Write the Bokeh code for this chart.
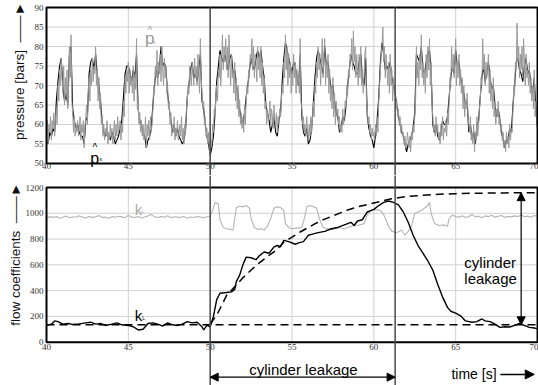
import numpy as np
from bokeh.plotting import figure
from bokeh.layouts import column
from bokeh.models import Arrow, NormalHead, Label, FixedTicker, Range1d, Span
from bokeh.embed import file_html
from bokeh.resources import INLINE

# ---------------- data ----------------
X_TICKS = [40, 45, 50, 55, 60, 65, 70]
P_TICKS = [50, 55, 60, 65, 70, 75, 80, 85, 90]
K_TICKS = [0, 200, 400, 600, 800, 1000, 1200]

# estimated pressure p_hat (grey), sampled every 0.05 s from 40 s to 70 s
P_GRAY = [
    57, 61, 55, 60, 58, 62, 56, 61, 59, 63, 57, 62, 64, 60, 70, 66, 74, 70, 77, 72,
    68, 75, 65, 72, 67, 74, 64, 70, 80, 72, 83, 66, 63, 58, 62, 57, 60, 58, 61, 57,
    59, 62, 56, 60, 58, 61, 54, 59, 62, 65, 60, 68, 72, 66, 74, 70, 77, 71, 75, 73,
    80, 70, 74, 66, 72, 64, 68, 60, 62, 57, 60, 56, 59, 57, 61, 55, 58, 56, 60, 57,
    59, 55, 58, 61, 56, 60, 57, 62, 58, 59, 61, 56, 60, 58, 66, 62, 72, 68, 74, 71,
    76, 68, 74, 70, 72, 68, 75, 66, 73, 69, 82, 64, 66, 60, 63, 58, 61, 57, 60, 56,
    58, 62, 54, 60, 57, 61, 56, 62, 58, 60, 64, 70, 68, 75, 72, 79, 70, 76, 73, 78,
    71, 80, 74, 70, 77, 72, 75, 68, 70, 64, 66, 60, 63, 57, 60, 58, 62, 56, 59, 57,
    61, 56, 58, 60, 57, 62, 56, 59, 55, 60, 58, 64, 66, 70, 68, 75, 72, 70, 76, 73,
    70, 77, 72, 75, 70, 78, 73, 68, 82, 72, 68, 64, 66, 60, 62, 57, 59, 55, 58, 54,
    52, 56, 55, 60, 58, 64, 62, 68, 70, 66, 74, 72, 78, 70, 76, 83, 74, 80, 76, 82,
    74, 80, 72, 83, 76, 70, 78, 72, 74, 68, 76, 66, 72, 64, 70, 62, 66, 60, 63, 59,
    62, 58, 64, 60, 66, 70, 68, 74, 72, 78, 76, 82, 74, 80, 72, 78, 76, 71, 80, 74,
    78, 72, 80, 70, 76, 68, 72, 64, 66, 60, 64, 61, 62, 66, 60, 64, 62, 59, 65, 61,
    60, 63, 58, 62, 60, 64, 62, 66, 70, 68, 76, 72, 83, 74, 80, 70, 78, 72, 76, 68,
    74, 70, 78, 72, 76, 68, 74, 70, 72, 68, 82, 66, 64, 60, 62, 58, 60, 57, 62, 58,
    56, 60, 57, 62, 58, 61, 66, 62, 70, 68, 76, 72, 80, 74, 78, 70, 76, 82, 72, 78,
    82, 70, 76, 72, 78, 68, 74, 66, 70, 64, 72, 62, 68, 60, 66, 62, 64, 60, 62, 58,
    60, 58, 64, 60, 62, 66, 64, 70, 68, 74, 72, 78, 76, 82, 74, 84, 76, 80, 72, 78,
    74, 70, 78, 72, 80, 70, 74, 68, 72, 78, 80, 66, 64, 60, 62, 58, 60, 56, 59, 57,
    58, 56, 60, 57, 62, 58, 66, 70, 74, 78, 80, 85, 76, 80, 72, 78, 74, 70, 76, 68,
    78, 70, 74, 66, 72, 68, 70, 64, 66, 62, 64, 60, 62, 58, 60, 57, 58, 55, 57, 54,
    55, 58, 56, 54, 57, 53, 58, 56, 60, 58, 62, 66, 80, 72, 76, 70, 78, 74, 83, 72,
    76, 70, 74, 68, 78, 72, 80, 74, 82, 70, 76, 66, 62, 58, 60, 57, 62, 58, 60, 56,
    58, 55, 60, 57, 62, 56, 59, 58, 61, 57, 63, 60, 66, 72, 70, 80, 74, 78, 72, 76,
    82, 70, 76, 72, 78, 70, 74, 68, 72, 64, 70, 62, 66, 64, 68, 62, 60, 58, 62, 56,
    58, 55, 60, 53, 58, 56, 62, 57, 60, 64, 66, 72, 70, 82, 74, 78, 70, 76, 72, 74,
    78, 68, 74, 66, 70, 64, 72, 62, 66, 60, 64, 62, 66, 60, 62, 58, 60, 56, 58, 54,
    56, 53, 58, 55, 57, 54, 60, 56, 59, 58, 64, 70, 68, 76, 74, 86, 76, 80, 72, 78,
    74, 80, 72, 82, 76, 70, 78, 72, 74, 70, 76, 68, 72, 66, 70, 64, 74, 62, 66, 60,
    60,
]
TIME_G = [round(40 + 0.05 * i, 2) for i in range(len(P_GRAY))]

# measured pressure p (black), sampled every 0.1 s
P_BLACK = [
    56, 55, 58, 57, 59, 58, 66, 71, 75, 77,
    70, 66, 68, 65, 78, 80, 64, 61, 59, 60,
    58, 57, 57, 55, 61, 62, 73, 76, 77, 74,
    78, 73, 70, 66, 61, 58, 57, 58, 57, 56,
    58, 57, 55, 56, 57, 59, 61, 67, 73, 75,
    75, 73, 71, 74, 72, 78, 64, 61, 60, 58,
    57, 54, 56, 57, 59, 65, 70, 74, 72, 75,
    80, 75, 76, 74, 68, 64, 61, 58, 60, 57,
    59, 57, 56, 55, 56, 59, 67, 70, 74, 76,
    72, 73, 71, 74, 78, 66, 64, 60, 57, 55,
    52, 54, 57, 63, 71, 75, 79, 77, 76, 78,
    76, 74, 77, 78, 73, 74, 70, 68, 64, 61,
    60, 63, 67, 70, 74, 77, 75, 74, 77, 79,
    77, 79, 75, 72, 65, 63, 61, 58, 60, 62,
    58, 57, 61, 63, 71, 77, 81, 79, 77, 75,
    73, 76, 75, 72, 70, 78, 62, 58, 57, 59,
    55, 56, 59, 65, 72, 77, 79, 77, 75, 73,
    80, 75, 76, 72, 69, 70, 66, 63, 62, 58,
    59, 62, 61, 65, 70, 74, 78, 76, 75, 73,
    73, 76, 78, 72, 70, 77, 62, 59, 57, 56,
    54, 57, 61, 67, 76, 81, 78, 74, 75, 74,
    76, 72, 70, 68, 65, 62, 60, 58, 57, 55,
    53, 55, 56, 57, 59, 63, 78, 77, 76, 80,
    74, 73, 76, 78, 79, 74, 60, 58, 60, 57,
    56, 58, 61, 60, 60, 62, 67, 72, 75, 73,
    79, 75, 76, 72, 70, 68, 65, 66, 58, 60,
    56, 58, 55, 60, 61, 67, 72, 75, 71, 73,
    76, 72, 69, 70, 65, 62, 64, 61, 58, 56,
    54, 56, 56, 59, 58, 65, 70, 76, 77, 74,
    73, 71, 75, 77, 73, 74, 70, 68, 72, 64,
    59,
]
TIME_B = [round(40 + 0.1 * i, 1) for i in range(len(P_BLACK))]

K_GRAY_FLAT1 = [
    965, 972, 968, 975, 962, 970, 978, 966, 973, 969,
    980, 971, 964, 976, 968, 972, 983, 967, 970, 961,
    974, 969, 977, 972, 966, 985, 970, 968, 975, 963,
    971, 979, 990, 972, 967, 974, 969, 981, 965, 973,
    970, 968, 976, 962, 971, 967, 975, 970, 966, 973,
]
K_GRAY_MID_T = [
    50.0, 50.2, 50.3, 50.5, 50.6, 50.8, 51.0, 51.2, 51.4, 51.5,
    51.6, 51.8, 52.0, 52.2, 52.4, 52.5, 52.7, 52.9, 53.1, 53.3,
    53.5, 53.7, 53.9, 54.1, 54.3, 54.5, 54.6, 54.8, 55.0, 55.3,
    55.6, 55.8, 55.9, 56.1, 56.3, 56.5, 56.7, 56.9, 57.2, 57.5,
    57.8, 58.2, 58.6, 59.0, 59.4, 59.6, 59.8, 60.1, 60.4, 60.6,
    60.9, 61.1, 61.4, 61.7, 61.9, 62.1, 62.3, 62.5, 62.7, 63.0,
    63.3, 63.4, 63.5, 63.7, 64.0, 64.3, 64.5, 64.6, 64.8,
]
K_GRAY_MID_V = [
    975, 1040, 1085, 1070, 950, 890, 880, 875, 870, 960,
    1045, 1055, 1050, 1060, 1040, 960, 890, 875, 880, 870,
    900, 960, 1040, 1050, 1045, 1020, 920, 890, 880, 885,
    890, 980, 1050, 1060, 1050, 1040, 950, 890, 880, 875,
    890, 880, 900, 905, 920, 990, 1020, 1030, 1020, 990,
    900, 860, 850, 870, 830, 860, 900, 1000, 1010, 1030,
    1060, 1085, 1000, 920, 905, 910, 900, 960, 985,
]
K_GRAY_FLAT2 = [
    975, 970, 980, 968, 975, 990, 972, 978, 965, 980,
    974, 985, 970, 977, 983, 969, 976, 972, 980, 975,
    987, 973, 978, 970, 982, 976,
]

K_L_T = [
    40.0, 40.3, 40.5, 40.7, 41.0, 41.3, 41.6, 42.0, 42.4, 42.7,
    43.0, 43.3, 43.6, 44.0, 44.3, 44.6, 45.0, 45.3, 45.6, 45.9,
    46.2, 46.5, 46.8, 47.1, 47.4, 47.7, 48.0, 48.3, 48.6, 48.9,
    49.2, 49.5, 49.6, 49.8, 50.0, 50.2, 50.4, 50.6, 51.0, 51.3,
    51.5, 51.6, 51.8, 52.0, 52.2, 52.5, 52.8, 53.0, 53.3, 53.6,
    53.9, 54.1, 54.3, 54.5, 54.8, 55.2, 55.4, 55.7, 56.0, 56.3,
    56.6, 57.0, 57.4, 57.8, 58.2, 58.6, 58.8, 59.0, 59.3, 59.6,
    60.0, 60.3, 60.6, 60.9, 61.2, 61.5, 61.8, 62.1, 62.4, 62.7,
    63.0, 63.3, 63.6, 63.9, 64.2, 64.5, 64.7, 65.0, 65.3, 65.6,
    66.0, 66.3, 66.6, 66.8, 67.1, 67.4, 67.7, 68.0, 68.3, 68.6,
    68.9, 69.2, 69.5, 69.8, 70.0,
]
K_L_V = [
    130, 140, 165, 160, 140, 145, 138, 142, 150, 155,
    140, 145, 130, 140, 150, 135, 130, 120, 95, 100,
    145, 150, 140, 125, 150, 135, 130, 140, 160, 150,
    155, 120, 95, 130, 120, 200, 330, 380, 385, 390,
    410, 470, 520, 600, 660, 655, 640, 670, 700, 690,
    740, 750, 740, 790, 780, 760, 770, 780, 830, 840,
    850, 860, 880, 890, 910, 930, 905, 940, 950, 1010,
    1030, 1060, 1085, 1095, 1085, 1065, 1010, 930, 830, 750,
    690, 630, 560, 450, 350, 270, 240, 225, 205, 165,
    155, 160, 180, 165, 160, 140, 115, 120, 118, 130,
    145, 130, 115, 110, 105,
]

MODEL_T = [50.0, 50.4, 50.8, 51.0, 51.5, 52.0, 52.5, 53.0, 53.5, 54.0,
           54.5, 55.0, 55.5, 56.0, 56.5, 57.0, 57.5, 58.0, 58.5, 59.0,
           59.5, 60.0, 60.5, 61.0, 61.5, 62.0, 63.0, 64.0, 65.0, 66.0,
           67.0, 68.0, 69.0, 70.0]
MODEL_V = [140, 210, 310, 363, 430, 500, 560, 615, 665, 710,
           775, 815, 855, 890, 925, 955, 980, 1005, 1030, 1050,
           1065, 1080, 1095, 1110, 1120, 1130, 1140, 1148, 1152, 1155,
           1157, 1158, 1160, 1160]
BASE_T = [40, 70]
BASE_V = [135, 135]

LEAK_START = 50.0
LEAK_END = 61.3

K_GRAY_T = [round(40 + 0.2 * i, 1) for i in range(50)] + K_GRAY_MID_T + \
    [round(65 + 0.2 * i, 1) for i in range(26)]
K_GRAY_V = K_GRAY_FLAT1 + K_GRAY_MID_V + K_GRAY_FLAT2

# ---------------- styling helpers ----------------
SANS = "Liberation Sans"
SERIF = "Liberation Serif"
NB = "\u00a0"
X_RANGE = (39.389, 70.06)


def style(p, yticks, title, standoff, x_loc, x_standoff):
    p.xaxis.ticker = FixedTicker(ticks=X_TICKS)
    p.yaxis.ticker = FixedTicker(ticks=yticks)
    p.xaxis.fixed_location = x_loc
    for ax in (p.xaxis[0], p.yaxis[0]):
        ax.major_tick_line_color = None
        ax.minor_tick_line_color = None
        ax.major_tick_out = 0
        ax.major_tick_in = 0
        ax.axis_line_color = None
        ax.major_label_text_font = SERIF
        ax.major_label_text_font_size = "9px"
        ax.major_label_text_color = "#333333"
    p.yaxis.major_label_standoff = -7
    p.xaxis.major_label_standoff = x_standoff
    p.yaxis.axis_label = title
    p.yaxis.axis_label_text_font = SANS
    p.yaxis.axis_label_text_font_size = "13.5px"
    p.yaxis.axis_label_text_font_style = "normal"
    p.yaxis.axis_label_text_color = "#111111"
    p.yaxis.axis_label_standoff = standoff
    p.outline_line_color = None
    p.xgrid.visible = False
    p.ygrid.visible = False
    p.background_fill_color = "white"
    p.border_fill_color = "white"
    lo, hi = yticks[0], yticks[-1]
    inner_y = yticks[1:-1]
    inner_x = X_TICKS[1:-1]
    p.segment(x0=[X_TICKS[0]] * len(inner_y), x1=[X_TICKS[-1]] * len(inner_y), y0=inner_y, y1=inner_y,
              line_color="#d2d2d2", line_width=1)
    p.segment(x0=inner_x, x1=inner_x, y0=[lo] * len(inner_x), y1=[hi] * len(inner_x),
              line_color="#cfcfcf", line_width=1)


def frame_box(p, yticks):
    p.quad(left=X_TICKS[0], right=X_TICKS[-1], bottom=yticks[0], top=yticks[-1],
           fill_color=None, line_color="black", line_width=2)


def head(size=9):
    return NormalHead(size=size, fill_color="black", line_color="black", line_width=1)


ARROW_TXT = "\u2014\u2014\u25ba"

# ---------------- top panel ----------------
top = figure(width=538, height=175, x_range=Range1d(*X_RANGE), y_range=Range1d(46.923, 91.795),
             output_backend="svg", toolbar_location=None,
             min_border_left=36, min_border_right=0, min_border_top=0, min_border_bottom=0)
style(top, P_TICKS, NB * 9 + "pressure [bars]" + NB * 2 + ARROW_TXT, 5, P_TICKS[0], 0)
top.line(TIME_B, P_BLACK, line_color="black", line_width=1.1)
top.line(TIME_G, P_GRAY, line_color="#9a9a9a", line_width=1.0)
frame_box(top, P_TICKS)
top.segment(x0=[LEAK_START, LEAK_END], x1=[LEAK_START, LEAK_END], y0=[P_TICKS[-1]] * 2,
            y1=[top.y_range.start] * 2, line_color="#4a4a4a", line_width=1.5)
# labels p-hat
top.add_layout(Label(x=46.31, y=81.97, text="p", text_font=SANS, text_font_size="17px",
                     text_color="#9a9a9a", text_align="center", text_baseline="alphabetic"))
top.add_layout(Label(x=46.31, y=84.13, text="^", text_font=SANS, text_font_size="10px",
                     text_color="#9a9a9a", text_align="center", text_baseline="alphabetic"))
top.add_layout(Label(x=46.57, y=81.1, text="s", text_font=SANS, text_font_size="5px",
                     text_color="#9a9a9a", text_align="center", text_baseline="middle"))
top.add_layout(Label(x=42.95, y=51.3, text="p", text_font=SANS, text_font_size="16px",
                     text_color="black", text_align="center", text_baseline="alphabetic"))
top.add_layout(Label(x=42.95, y=54.2, text="^", text_font=SANS, text_font_size="10px",
                     text_color="black", text_align="center", text_baseline="alphabetic"))
top.add_layout(Label(x=43.31, y=51.1, text="s", text_font=SANS, text_font_size="5px",
                     text_color="black", text_align="center", text_baseline="middle"))

# ---------------- bottom panel ----------------
bot = figure(width=538, height=210, x_range=Range1d(*X_RANGE), y_range=Range1d(-335.9, 1293.1),
             output_backend="svg", toolbar_location=None,
             min_border_left=36, min_border_right=0, min_border_top=0, min_border_bottom=0)
style(bot, K_TICKS, NB * 14 + "flow coefficients" + NB * 2 + ARROW_TXT, 0, K_TICKS[0], 2)
bot.line(K_GRAY_T, K_GRAY_V, line_color="#b4b4b4", line_width=1.1)
bot.line(BASE_T, BASE_V, line_color="black", line_width=1.5, line_dash="8 5")
bot.line(MODEL_T, MODEL_V, line_color="black", line_width=1.5, line_dash="8 5")
bot.line(K_L_T, K_L_V, line_color="black", line_width=1.4)
frame_box(bot, K_TICKS)
for loc in (LEAK_START, LEAK_END):
    bot.add_layout(Span(location=loc, dimension="height", line_color="#4a4a4a", line_width=1.5))
# vertical cylinder leakage arrow
bot.add_layout(Arrow(start=head(8), end=head(8), x_start=69.0, y_start=BASE_V[0], x_end=69.0,
                     y_end=MODEL_V[-1], line_color="black", line_width=1.2))
bot.add_layout(Label(x=65.53, y=620, text="cylinder", text_font=SANS, text_font_size="15px",
                     text_color="black", text_align="left", text_baseline="alphabetic"))
bot.add_layout(Label(x=65.53, y=492, text="leakage", text_font=SANS, text_font_size="15px",
                     text_color="black", text_align="left", text_baseline="alphabetic"))
# horizontal cylinder leakage arrow
bot.add_layout(Arrow(start=head(8), end=head(8), x_start=LEAK_START, y_start=-271, x_end=LEAK_END,
                     y_end=-271, line_color="black", line_width=1.2))
bot.add_layout(Label(x=55.7, y=-212, text="cylinder leakage", text_font=SANS, text_font_size="15px",
                     text_color="black", text_align="center", text_baseline="alphabetic"))
bot.add_layout(Label(x=64.74, y=-243, text="time [s]", text_font=SANS, text_font_size="14px",
                     text_color="black", text_align="left", text_baseline="middle"))
bot.add_layout(Arrow(end=head(9), x_start=67.73, y_start=-250, x_end=69.8, y_end=-250,
                     line_color="black", line_width=1.5))
# k labels
bot.add_layout(Label(x=45.39, y=1029, text="k", text_font=SANS, text_font_size="15px",
                     text_color="#aaaaaa", text_align="left", text_baseline="alphabetic"))
bot.add_layout(Label(x=45.88, y=1014, text="L", text_font=SANS, text_font_size="5px",
                     text_color="#aaaaaa", text_align="center", text_baseline="middle"))
bot.add_layout(Label(x=45.39, y=207, text="k", text_font=SANS, text_font_size="15px",
                     text_color="black", text_align="left", text_baseline="alphabetic"))
bot.add_layout(Label(x=45.94, y=184, text="L", text_font=SANS, text_font_size="5px",
                     text_color="black", text_align="center", text_baseline="middle"))

layout = column(top, bot, spacing=0)
open("out.html", "w").write(file_html(layout, INLINE))
